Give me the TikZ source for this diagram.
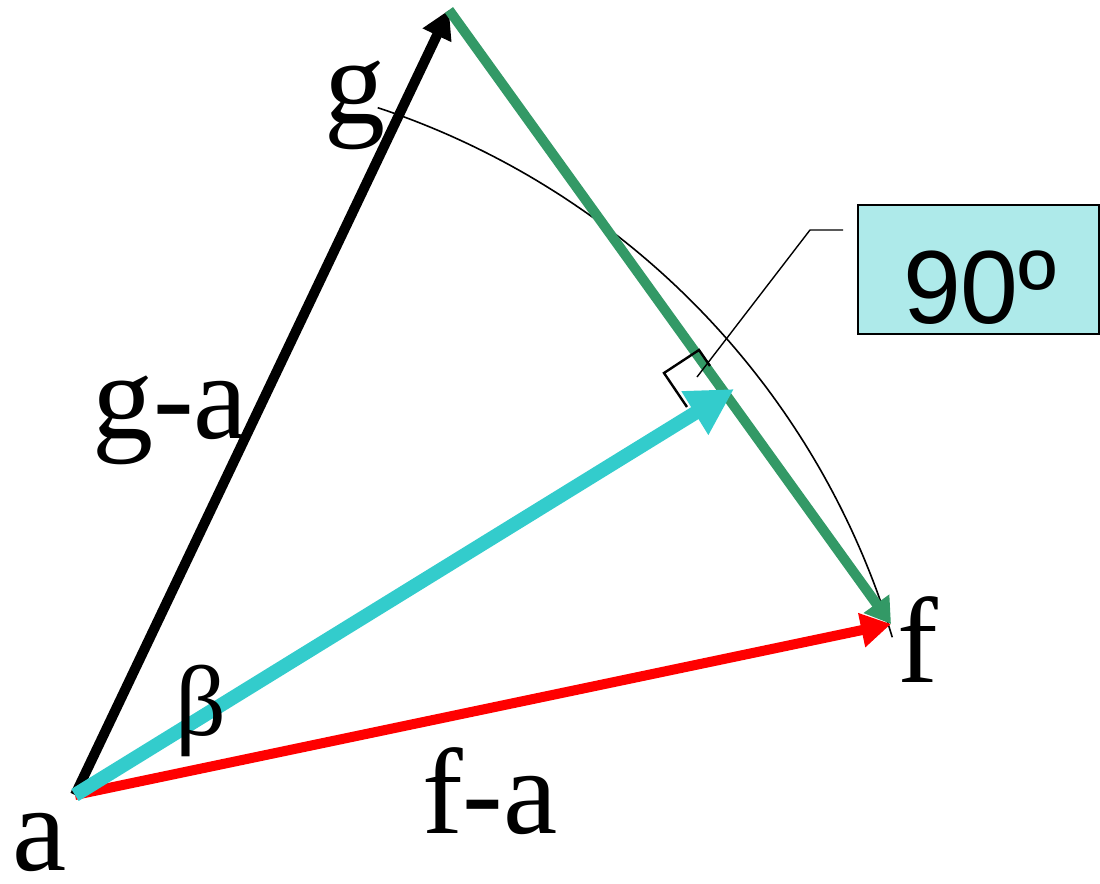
\documentclass[tikz,border=0pt]{standalone}
\usepackage{fontspec}
\setmainfont{Liberation Serif}
\newfontfamily\arialf{Liberation Sans}
\usetikzlibrary{arrows.meta}
\definecolor{pgreen}{HTML}{339966}
\definecolor{pcyan}{HTML}{33CCCC}
\definecolor{pbox}{HTML}{AEEAEA}
\begin{document}
\begin{tikzpicture}[x=0.5pt,y=-0.5pt,
  vecline/.style={line width=5pt},
  lbl/.style={font=\fontsize{61}{61}\selectfont, anchor=base, inner sep=0pt},
  thinline/.style={line width=0.8pt},
  callout/.style={line width=0.7pt}]
\useasboundingbox (0,0) rectangle (1100,884);
\coordinate (a) at (75,795);
\coordinate (g) at (449,10);
\coordinate (f) at (891,624);
\coordinate (p) at (734,389);
% arc
\draw[thinline] plot[domain=-71.66:-16.69,samples=80] ({126+800*cos(\x)},{867+800*sin(\x)});
% vectors
\draw[vecline, black, -{Triangle[length=14pt,width=15pt]}] (a) -- (g);
\draw[vecline, pgreen, -{Triangle[length=12.5pt,width=15pt]}] (g) -- (f);
\draw[vecline, red, -{Triangle[length=15pt,width=16.5pt]}] (a) -- (f);
\draw[line width=7pt, pcyan, -{Triangle[length=23pt,width=24pt]}] (a) -- (p);
% right angle marker
\draw[line width=1.2pt] (687,407) -- (664,373) -- (699,350) -- (710,366);
% callout
\node[draw=black, line width=1pt, fill=pbox, minimum width=120.5pt, minimum height=64.5pt, inner sep=0pt] (box) at (978.5,269.5) {};
\node[font=\arialf\fontsize{52}{52}\selectfont, anchor=base, inner sep=0pt] (deg) at (980,323) {90º};
\coordinate (cfoot) at (697,377);
\coordinate (cknee) at (810,230);
\coordinate (cend) at (843,230);
\draw[callout] (cfoot) -- (cknee) -- (cend);
% labels
\node[lbl] (lg) at (355,123) {g};
\node[lbl] (lf) at (918,682) {f};
\node[lbl] (la) at (40,870) {a};
\node[lbl] (lga) at (170,438) {g-a};
\node[lbl] (lfa) at (490,833) {f-a};
\node[font=\fontsize{50}{50}\selectfont, anchor=base, inner sep=0pt] (lb) at (201,735) {β};
\end{tikzpicture}
\end{document}
